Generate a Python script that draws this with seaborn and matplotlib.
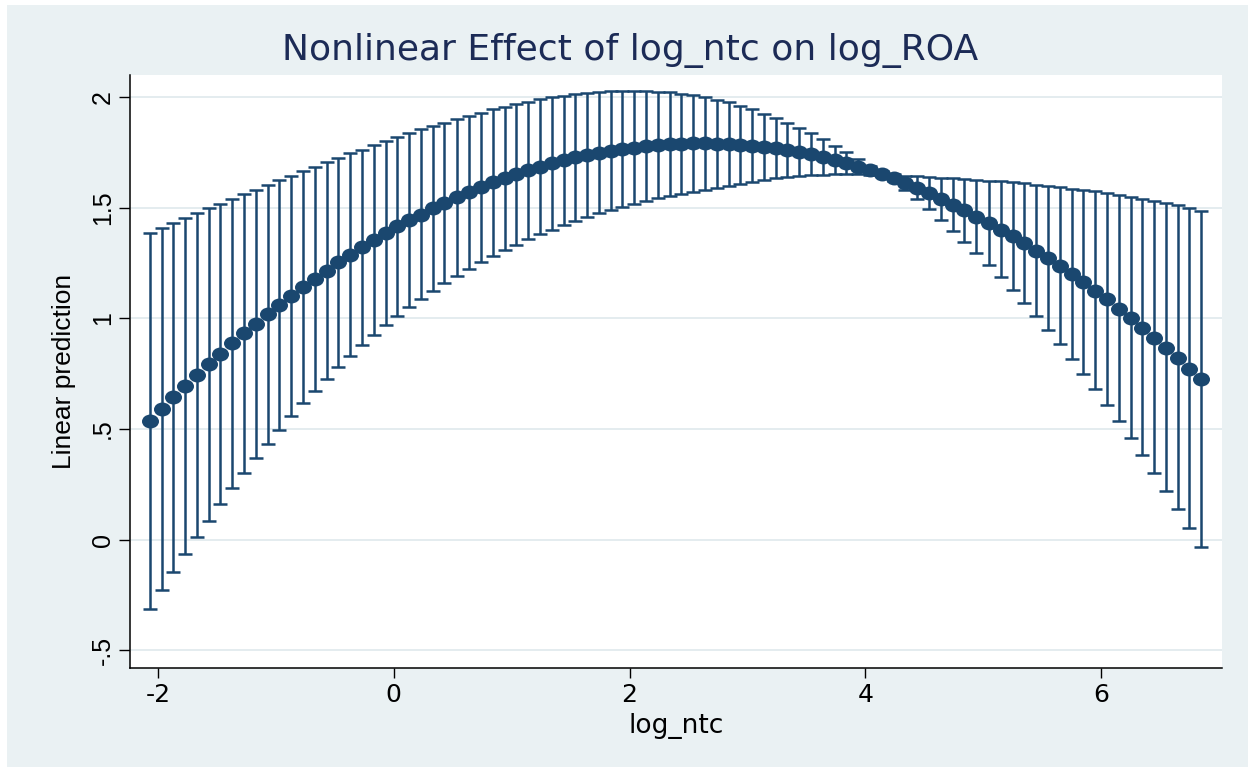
import numpy as np
import pandas as pd
import matplotlib
matplotlib.use("Agg")
import matplotlib.pyplot as plt
from matplotlib.patches import Rectangle
from matplotlib.path import Path
from matplotlib.transforms import Affine2D
import seaborn as sns

# margins at log_ntc grid
log_ntc = [-2.07, -1.97, -1.87, -1.77, -1.67, -1.57, -1.47, -1.37, -1.27, -1.17,
           -1.07, -0.97, -0.87, -0.77, -0.67, -0.57, -0.47, -0.37, -0.27, -0.17,
           -0.07, 0.03, 0.13, 0.23, 0.33, 0.43, 0.54, 0.64, 0.74, 0.84,
           0.94, 1.04, 1.14, 1.24, 1.34, 1.44, 1.54, 1.64, 1.74, 1.84,
           1.94, 2.04, 2.14, 2.24, 2.34, 2.44, 2.54, 2.64, 2.74, 2.84,
           2.94, 3.04, 3.14, 3.24, 3.34, 3.44, 3.54, 3.64, 3.74, 3.84,
           3.94, 4.04, 4.14, 4.24, 4.34, 4.44, 4.54, 4.64, 4.74, 4.84,
           4.94, 5.05, 5.15, 5.25, 5.35, 5.45, 5.55, 5.65, 5.75, 5.85,
           5.95, 6.05, 6.15, 6.25, 6.35, 6.45, 6.55, 6.65, 6.75, 6.85]

pred = [0.537, 0.590, 0.643, 0.695, 0.744, 0.792, 0.840, 0.887, 0.932, 0.977,
        1.021, 1.063, 1.103, 1.142, 1.180, 1.216, 1.253, 1.288, 1.322, 1.353,
        1.385, 1.416, 1.445, 1.470, 1.498, 1.524, 1.549, 1.572, 1.594, 1.615,
        1.634, 1.653, 1.670, 1.686, 1.701, 1.715, 1.728, 1.739, 1.749, 1.758,
        1.766, 1.773, 1.779, 1.784, 1.788, 1.791, 1.792, 1.792, 1.791, 1.788,
        1.785, 1.780, 1.776, 1.770, 1.762, 1.753, 1.743, 1.730, 1.717, 1.702,
        1.686, 1.670, 1.654, 1.637, 1.614, 1.591, 1.567, 1.542, 1.515, 1.489,
        1.459, 1.432, 1.402, 1.372, 1.339, 1.307, 1.273, 1.236, 1.202, 1.164,
        1.125, 1.086, 1.044, 1.000, 0.958, 0.913, 0.867, 0.821, 0.773, 0.724]

ci_low = [-0.314, -0.230, -0.148, -0.065, 0.012, 0.086, 0.160, 0.233, 0.302, 0.370,
          0.434, 0.497, 0.560, 0.618, 0.674, 0.727, 0.782, 0.831, 0.879, 0.926,
          0.969, 1.011, 1.051, 1.088, 1.126, 1.161, 1.194, 1.224, 1.254, 1.284,
          1.308, 1.334, 1.358, 1.380, 1.401, 1.422, 1.442, 1.458, 1.475, 1.490,
          1.505, 1.518, 1.531, 1.543, 1.553, 1.565, 1.574, 1.583, 1.592, 1.599,
          1.608, 1.615, 1.626, 1.635, 1.638, 1.645, 1.648, 1.650, 1.651, 1.651,
          1.652, 1.650, 1.643, 1.622, 1.582, 1.540, 1.494, 1.447, 1.395, 1.345,
          1.294, 1.241, 1.187, 1.130, 1.071, 1.011, 0.949, 0.884, 0.818, 0.750,
          0.682, 0.610, 0.535, 0.459, 0.381, 0.303, 0.220, 0.137, 0.053, -0.036]

ci_high = [1.385, 1.408, 1.430, 1.453, 1.475, 1.498, 1.519, 1.542, 1.562, 1.582,
           1.604, 1.625, 1.646, 1.666, 1.686, 1.706, 1.727, 1.746, 1.764, 1.783,
           1.801, 1.820, 1.840, 1.856, 1.871, 1.886, 1.902, 1.917, 1.931, 1.946,
           1.958, 1.970, 1.981, 1.991, 2.000, 2.008, 2.014, 2.019, 2.024, 2.027,
           2.028, 2.028, 2.027, 2.025, 2.022, 2.017, 2.010, 2.001, 1.990, 1.977,
           1.962, 1.945, 1.926, 1.905, 1.886, 1.860, 1.838, 1.810, 1.782, 1.753,
           1.720, 1.690, 1.665, 1.652, 1.645, 1.642, 1.639, 1.636, 1.633, 1.631,
           1.628, 1.623, 1.620, 1.616, 1.611, 1.605, 1.601, 1.595, 1.587, 1.581,
           1.575, 1.568, 1.560, 1.551, 1.542, 1.533, 1.523, 1.512, 1.500, 1.485]

x_ticks = [-2, 0, 2, 4, 6]
y_ticks = [-0.5, 0, 0.5, 1, 1.5, 2]
y_tick_labels = ["-.5", "0", ".5", "1", "1.5", "2"]

NAVY = "#1a476f"
BG = "#eaf1f3"
GRID = "#e4ecef"

df = pd.DataFrame({"log_ntc": log_ntc, "pred": pred, "lo": ci_low, "hi": ci_high})

sns.set_theme(style="white")
plt.rcParams["font.family"] = ["DejaVu Sans"]

W, H = 1248, 767
fig = plt.figure(figsize=(W / 100, H / 100), dpi=100)
fig.patch.set_facecolor("white")
fig.add_artist(Rectangle((7 / W, 0), 1, 1 - 5 / H, transform=fig.transFigure,
                         facecolor=BG, edgecolor="none", zorder=0))

ax = fig.add_axes([130 / W, 1 - 668 / H, (1222 - 130) / W, (668 - 75) / H])
ax.set_facecolor("white")

# slightly wide dot, like the stretched Stata export
wide_dot = Path.unit_circle().transformed(Affine2D().scale(1.22, 1.0))

# confidence interval bars
ax.errorbar(df["log_ntc"], df["pred"],
            yerr=[df["pred"] - df["lo"], df["hi"] - df["pred"]],
            fmt="none", ecolor=NAVY, elinewidth=1.8, capsize=4.8, capthick=1.8,
            zorder=2)
sns.scatterplot(data=df, x="log_ntc", y="pred", ax=ax, color=NAVY, s=150,
                marker=wide_dot, edgecolor=NAVY, linewidth=0, zorder=3,
                legend=False)

ax.set_xlim(-2.2375, 7.026)
ax.set_ylim(-0.581, 2.101)
ax.set_xticks(x_ticks)
ax.set_xticklabels([str(t) for t in x_ticks])
ax.set_yticks(y_ticks)
ax.set_yticklabels(y_tick_labels, rotation=90, va="center",
                   fontfamily="Liberation Sans", fontsize=18)
for t in y_ticks:
    ax.axhline(t, color=GRID, lw=1.4, zorder=1)

for side in ["top", "right"]:
    ax.spines[side].set_visible(False)
for side in ["left", "bottom"]:
    ax.spines[side].set_color("black")
    ax.spines[side].set_linewidth(1.1)

ax.tick_params(axis="x", length=7, width=1, color="black", labelsize=18,
               labelcolor="black", pad=4, direction="out", bottom=True)
ax.tick_params(axis="y", length=8, width=1, color="black",
               labelcolor="black", pad=3, direction="out", left=True)
ax.set_xlabel("")
ax.set_ylabel("")

fig.text(64 / W, 1 - 371 / H, "Linear prediction", rotation=90, ha="center",
         va="center", fontsize=19, fontfamily="Liberation Sans", color="black")
fig.text(676 / W, 1 - 726 / H, "log_ntc", ha="center", va="center",
         fontsize=19, color="black")
fig.text(630 / W, 1 - 50 / H, "Nonlinear Effect of log_ntc on log_ROA",
         ha="center", va="center", fontsize=26, color="#1c2b56")

fig.savefig("out.png", dpi=100, facecolor=fig.get_facecolor())
